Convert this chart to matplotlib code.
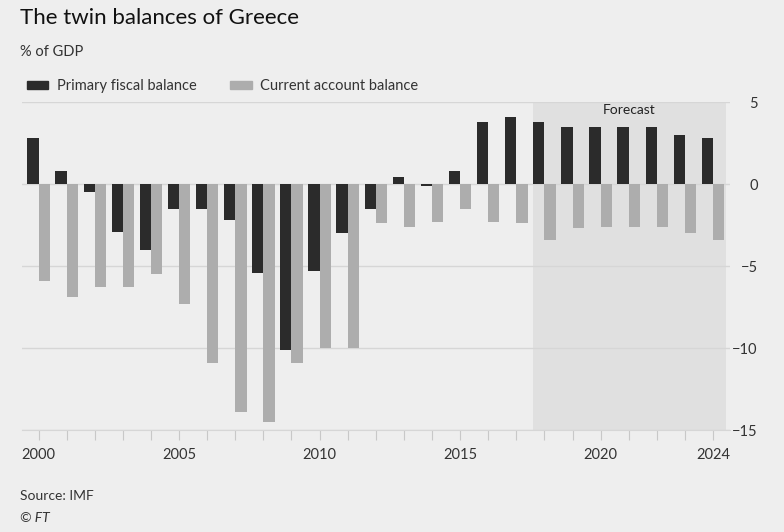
import numpy as np
import matplotlib
matplotlib.use("Agg")
import matplotlib.pyplot as plt
from matplotlib.patches import Patch

plt.rcParams['font.family'] = ['Lato', 'DejaVu Sans']

years = np.arange(2000, 2025)
fiscal = [2.8, 0.8, -0.5, -2.9, -4.0, -1.5, -1.5, -2.2, -5.4, -10.1,
          -5.3, -3.0, -1.5, 0.4, -0.1, 0.8, 3.8, 4.1, 3.8, 3.5,
          3.5, 3.5, 3.5, 3.0, 2.8]
current = [-5.9, -6.9, -6.3, -6.3, -5.5, -7.3, -10.9, -13.9, -14.5, -10.9,
           -10.0, -10.0, -2.4, -2.6, -2.3, -1.5, -2.3, -2.4, -3.4, -2.7,
           -2.6, -2.6, -2.6, -3.0, -3.4]
labelled_years = [2000, 2005, 2010, 2015, 2020, 2024]
forecast_start, forecast_end = 2017.6, 2024.45

bg = '#eeeeee'
dark = '#2b2b2b'
light = '#adadad'
grid = '#d6d6d6'
txt = '#333333'

fig = plt.figure(figsize=(7.84, 5.32), dpi=100, facecolor=bg)
ax = fig.add_axes([0.028, 0.1917, 0.903, 0.6165], facecolor=bg)

ax.axvspan(forecast_start, forecast_end, color='#e0e0e0', zorder=0, lw=0)
ax.text((forecast_start + forecast_end) / 2, 4.5, 'Forecast', ha='center', va='center',
        fontsize=10, color='#222222')

w = 0.4
ax.bar(years - w / 2, fiscal, width=w, color=dark, zorder=3, label='Primary fiscal balance')
ax.bar(years + w / 2, current, width=w, color=light, zorder=3, label='Current account balance')

ax.set_xlim(1999.41, 2024.6)
ax.set_ylim(-15, 5)
ax.set_yticks([5, 0, -5, -10, -15])
ax.yaxis.set_ticks_position('right')
ax.yaxis.grid(True, color=grid, lw=1, zorder=1)
ax.tick_params(axis='y', length=0, pad=20, labelsize=10.5, labelcolor=txt)
for lab in ax.get_yticklabels():
    lab.set_horizontalalignment('right')

ax.set_xticks(years)
ax.set_xticklabels([str(y) if y in labelled_years else '' for y in years])
ax.tick_params(axis='x', length=7, width=0.8, color='#c8c8c8', pad=6,
               labelsize=10.5, labelcolor=txt)

for s in ['top', 'left', 'right']:
    ax.spines[s].set_visible(False)
ax.spines['bottom'].set_color(grid)

fig.text(0.025, 0.966, 'The twin balances of Greece', fontsize=16, color='#111111', va='center')
fig.text(0.025, 0.902, '% of GDP', fontsize=10.5, color=txt, va='center')

handles = [Patch(color=dark), Patch(color=light)]
fig.legend(handles, ['Primary fiscal balance', 'Current account balance'],
           loc='center left', bbox_to_anchor=(0.018, 0.838), ncol=2, frameon=False,
           fontsize=10.5, handlelength=1.45, handleheight=0.55, handletextpad=0.6,
           columnspacing=2.3, labelcolor=txt)

fig.text(0.025, 0.068, 'Source: IMF', fontsize=10, color=txt, va='center')
fig.text(0.025, 0.027, '© FT', fontsize=10, color=txt, va='center', style='italic')

fig.savefig('out.png', dpi=100, facecolor=bg)
